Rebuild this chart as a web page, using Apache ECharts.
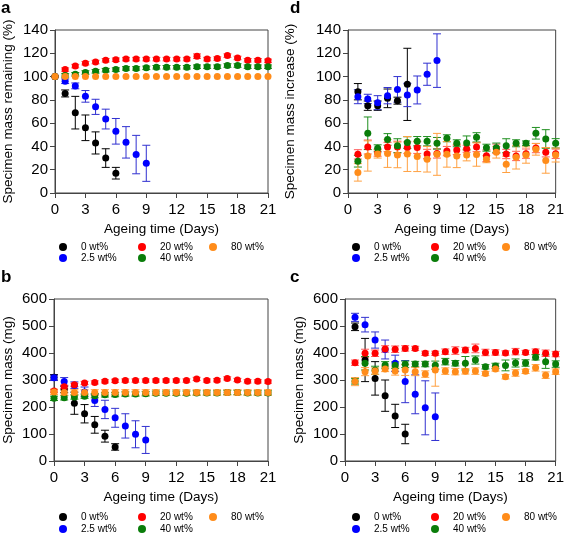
<!DOCTYPE html>
<html><head><meta charset="utf-8">
<script src="https://cdn.jsdelivr.net/npm/echarts@6/dist/echarts.min.js"></script>
<style>html,body{margin:0;padding:0;background:#fff}#c{width:567px;height:535px}</style>
</head><body><div id="c"></div>
<script>
// ---------- data ----------
const seriesNames = ['0 wt%', '2.5 wt%', '20 wt%', '40 wt%', '80 wt%'];
const xTicks = [0, 3, 6, 9, 12, 15, 18, 21];

// Panel a: Specimen mass remaining (%), days from 0
const A_black = [100, 85.5, 69, 56, 43, 30, 17];
const A_black_err = [0, 3, 14, 11, 9.5, 8, 5];
const A_blue = [100, 96, 92, 83, 74, 63.5, 53, 43.5, 33, 25.5];
const A_blue_err = [0, 2, 2.5, 5, 6.5, 8.5, 11, 13.5, 16.5, 15.5];
const A_red = [100, 106, 109, 111.5, 112.5, 114, 114.5, 115, 115, 115, 115, 115, 115, 115, 117.5, 115, 115.5, 118, 116, 114, 114, 113.5];
const A_red_err = [0, 1.5, 1.5, 1.5, 1.5, 1.5, 1.5, 1.5, 1.5, 1.5, 1.5, 1.5, 1.5, 1.5, 2, 1.5, 1.5, 1.5, 1.5, 1.5, 1.5, 1.5];
const A_green = [100, 101, 102, 103.5, 104.5, 105.5, 106, 107, 107, 107.5, 108, 108, 108, 108, 108.5, 108.5, 108.5, 109.5, 109.5, 108.5, 108.5, 108.5];
const A_green_err = [0, 1.5, 1.5, 1.5, 1.5, 1.5, 1.5, 1.5, 1.5, 1.5, 1.5, 1.5, 1.5, 1.5, 1.5, 1.5, 1.5, 1.5, 1.5, 1.5, 1.5, 1.5];
const A_orange = [100, 100, 100, 100, 100, 100, 100, 100, 100, 100, 100, 100, 100, 100, 100, 100, 100, 100, 100, 100, 100, 100];
const A_orange_err = [0, 0, 0, 0, 0, 0, 0, 0, 0, 0, 0, 0, 0, 0, 0, 0, 0, 0, 0, 0, 0, 0];

// Panel d: Specimen mass increase (%), days from 1
const D_black = [87, 75, 75, 81.3, 79.3, 93.3];
const D_black_err = [7, 4, 4, 8, 3, 31];
const D_blue = [82.7, 80.8, 77.6, 83.6, 89, 84.2, 88.5, 102, 113.7];
const D_blue_err = [6, 4, 6, 7, 11, 10, 12, 9.5, 23];
const D_red = [33.2, 39.5, 34.6, 39.5, 39.5, 39, 39, 33.5, 34, 36, 37, 38, 39.5, 32, 38, 33.5, 31.8, 33.8, 38.6, 35, 33.7];
const D_red_err = [4, 6, 3, 4, 5, 5, 5, 4, 4, 4, 4, 3, 4, 5, 4, 4, 4, 4, 4, 4, 4];
const D_green = [27.3, 51.3, 38.4, 46, 40.6, 43.3, 44.5, 44.5, 42.7, 47, 42.7, 43, 47.8, 38.9, 38.9, 40.6, 42.7, 42.7, 51.3, 46.4, 42.7];
const D_green_err = [5, 14, 3, 5, 6, 5, 4, 4, 5, 3, 3, 6, 4, 3, 4, 6, 3, 2, 5, 8, 4];
const D_orange = [17.7, 31.8, 33.5, 34, 32.7, 33.5, 31.4, 29, 33.2, 33.2, 31.8, 32.6, 33, 29, 35, 24.6, 30.6, 32.6, 37.5, 28, 32.6];
const D_orange_err = [7.5, 13, 3.5, 12, 11, 15, 13, 11, 18, 11, 10, 5, 10, 3, 5, 7, 10, 7, 5, 11, 6];

// Panel b: Specimen mass (mg), days from 0
const B_black = [310, 265, 214, 175, 134, 92, 52];
const B_black_err = [10, 12, 41, 34, 31, 22, 12];
const B_blue = [308, 294, 281, 256, 224, 191, 160, 130, 99, 78];
const B_blue_err = [10, 15, 12, 18, 22, 34, 35, 45, 50, 50];
const B_red = [259, 275, 282, 289, 291, 295, 297, 298, 298, 298, 298, 298, 298, 298, 304, 298, 299, 306, 300, 295, 295, 294];
const B_red_err = [6, 6, 6, 6, 6, 6, 6, 6, 6, 6, 6, 6, 6, 6, 6, 6, 6, 6, 6, 6, 6, 6];
const B_green = [232, 234, 237, 240, 242, 245, 246, 248, 248, 249, 251, 251, 251, 251, 252, 252, 252, 254, 254, 252, 252, 252];
const B_green_err = [8, 8, 8, 8, 8, 8, 8, 8, 8, 8, 8, 8, 8, 8, 8, 8, 8, 8, 8, 8, 8, 8];
const B_orange = [256, 254, 254, 254, 254, 254, 254, 254, 254, 254, 254, 254, 254, 254, 254, 254, 254, 254, 254, 254, 254, 254];
const B_orange_err = [10, 10, 10, 10, 10, 10, 10, 10, 10, 10, 10, 10, 10, 10, 10, 10, 10, 10, 10, 10, 10, 10];

// Panel c: Specimen mass (mg), days from 1
const C_black = [497, 374, 306, 242, 167, 100];
const C_black_err = [14, 80, 62, 58, 43, 36];
const C_blue = [532, 505, 448, 413, 362, 294, 247, 197, 164];
const C_blue_err = [15, 27, 30, 35, 30, 78, 72, 100, 88];
const C_red = [364, 399, 399, 415, 414, 417, 417, 399, 399, 405, 409, 411, 417, 402, 402, 400, 405, 402, 405, 399, 396];
const C_red_err = [10, 15, 12, 12, 12, 10, 8, 8, 8, 10, 14, 10, 16, 12, 10, 8, 12, 8, 10, 12, 10];
const C_green = [295, 362, 336, 356, 355, 358, 359, 359, 355, 368, 362, 362, 374, 349, 352, 354, 363, 363, 384, 368, 359];
const C_green_err = [10, 25, 15, 12, 12, 12, 10, 10, 15, 12, 10, 25, 15, 8, 10, 20, 15, 12, 10, 25, 12];
const C_orange = [294, 331, 333, 341, 333, 337, 331, 322, 337, 333, 331, 332, 333, 324, 341, 312, 326, 332, 345, 318, 331];
const C_orange_err = [15, 15, 12, 10, 15, 20, 15, 12, 60, 12, 12, 10, 12, 8, 8, 8, 12, 8, 12, 12, 10];

// ---------- styling / layout ----------
const pointColors = ['#000000', '#0000ff', '#ff0000', '#0a7d0a', '#ff8c1a'];
const errColors = ['#000000', '#3030d0', '#ff5a5a', '#1f8f1f', '#ffa040'];
const FONT = 'Liberation Sans, Arial, sans-serif';

const panels = [
  { letter: 'a', grid: {left: 55, top: 30, width: 213, height: 163}, yMax: 140, yInt: 20,
    yName: 'Specimen mass remaining (%)', yGap: 40, start: 0,
    vals: [A_black, A_blue, A_red, A_green, A_orange], errs: [A_black_err, A_blue_err, A_red_err, A_green_err, A_orange_err],
    letterPos: [1, 0], legendRows: [248, 259], legendCols: [63, 142, 213] },
  { letter: 'd', grid: {left: 348, top: 30, width: 212, height: 163}, yMax: 140, yInt: 20,
    yName: 'Specimen mass increase (%)', yGap: 51, start: 1,
    vals: [D_black, D_blue, D_red, D_green, D_orange], errs: [D_black_err, D_blue_err, D_red_err, D_green_err, D_orange_err],
    letterPos: [290, 0], legendRows: [248, 259], legendCols: [356, 435, 506] },
  { letter: 'b', grid: {left: 54, top: 299, width: 214, height: 162}, yMax: 600, yInt: 100,
    yName: 'Specimen mass (mg)', yGap: 39, start: 0,
    vals: [B_black, B_blue, B_red, B_green, B_orange], errs: [B_black_err, B_blue_err, B_red_err, B_green_err, B_orange_err],
    letterPos: [1, 269], legendRows: [518, 530], legendCols: [63, 142, 213] },
  { letter: 'c', grid: {left: 345, top: 299, width: 215, height: 162}, yMax: 600, yInt: 100,
    yName: 'Specimen mass (mg)', yGap: 39, start: 1,
    vals: [C_black, C_blue, C_red, C_green, C_orange], errs: [C_black_err, C_blue_err, C_red_err, C_green_err, C_orange_err],
    letterPos: [290, 269], legendRows: [518, 530], legendCols: [356, 435, 506] }
];
// legend slot for each series: [col, row]
const legendSlots = [[0, 0], [0, 1], [1, 0], [1, 1], [2, 0]];

function renderErr(color) {
  return function (params, api) {
    const x = api.value(0), y = api.value(1), e = api.value(2);
    if (!e) return null;
    const p1 = api.coord([x, y + e]), p2 = api.coord([x, y - e]);
    const w = 4;
    const style = {stroke: color, lineWidth: 1, fill: null};
    return {type: 'group', children: [
      {type: 'line', shape: {x1: p1[0], y1: p1[1], x2: p2[0], y2: p2[1]}, style: style},
      {type: 'line', shape: {x1: p1[0] - w, y1: p1[1], x2: p1[0] + w, y2: p1[1]}, style: style},
      {type: 'line', shape: {x1: p2[0] - w, y1: p2[1], x2: p2[0] + w, y2: p2[1]}, style: style}
    ]};
  };
}

const option = {animation: false, backgroundColor: '#fff', textStyle: {fontFamily: FONT},
  grid: [], xAxis: [], yAxis: [], series: [], legend: [], title: []};

panels.forEach((p, pi) => {
  option.grid.push(Object.assign({show: true, borderColor: '#444', borderWidth: 1}, p.grid));
  option.xAxis.push({gridIndex: pi, type: 'value', min: 0, max: 21, interval: 3,
    name: 'Ageing time (Days)', nameLocation: 'middle', nameGap: 29,
    nameTextStyle: {fontSize: 13.5, color: '#000', fontFamily: FONT},
    axisLine: {lineStyle: {color: '#444'}}, axisTick: {inside: false, length: 5, lineStyle: {color: '#444'}},
    axisLabel: {fontSize: 15, color: '#000', margin: 9, fontFamily: FONT}, splitLine: {show: false}});
  option.yAxis.push({gridIndex: pi, type: 'value', min: 0, max: p.yMax, interval: p.yInt,
    name: p.yName, nameLocation: 'middle', nameRotate: 90, nameGap: p.yGap,
    nameTextStyle: {fontSize: 13.5, color: '#000', fontFamily: FONT},
    axisLine: {lineStyle: {color: '#444'}}, axisTick: {inside: false, length: 5, lineStyle: {color: '#444'}},
    axisLabel: {fontSize: 15, color: '#000', margin: 7, fontFamily: FONT}, splitLine: {show: false}});
  option.title.push({text: p.letter, left: p.letterPos[0], top: p.letterPos[1], padding: 0,
    textStyle: {fontSize: 17, fontWeight: 'bold', color: '#000', fontFamily: FONT}});

  // error bars first
  p.vals.forEach((vals, si) => {
    const data = vals.map((v, i) => [p.start + i, v, p.errs[si][i]]);
    option.series.push({type: 'custom', xAxisIndex: pi, yAxisIndex: pi, z: 2, silent: true,
      renderItem: renderErr(errColors[si]), encode: {x: 0, y: 1}, data: data, clip: false});
  });
  // points
  p.vals.forEach((vals, si) => {
    const data = vals.map((v, i) => [p.start + i, v]);
    option.series.push({type: 'scatter', name: seriesNames[si], xAxisIndex: pi, yAxisIndex: pi, z: 3,
      symbol: 'circle', symbolSize: 7, itemStyle: {color: pointColors[si], opacity: 1}, data: data});
  });
  // legends (one component per item to reproduce the 3-column grid)
  seriesNames.forEach((nm, si) => {
    const [c, r] = legendSlots[si];
    option.legend.push({data: [nm], left: p.legendCols[c] - 4, top: p.legendRows[r] - 6, padding: 0,
      icon: 'circle', itemWidth: 8, itemHeight: 8, selectedMode: false,
      textStyle: {fontSize: 10, color: '#000', padding: [0, 0, 0, 9], fontFamily: FONT}});
  });
});

const chart = echarts.init(document.getElementById('c'), null, {renderer: 'canvas'});
chart.setOption(option);
</script>
</body></html>
